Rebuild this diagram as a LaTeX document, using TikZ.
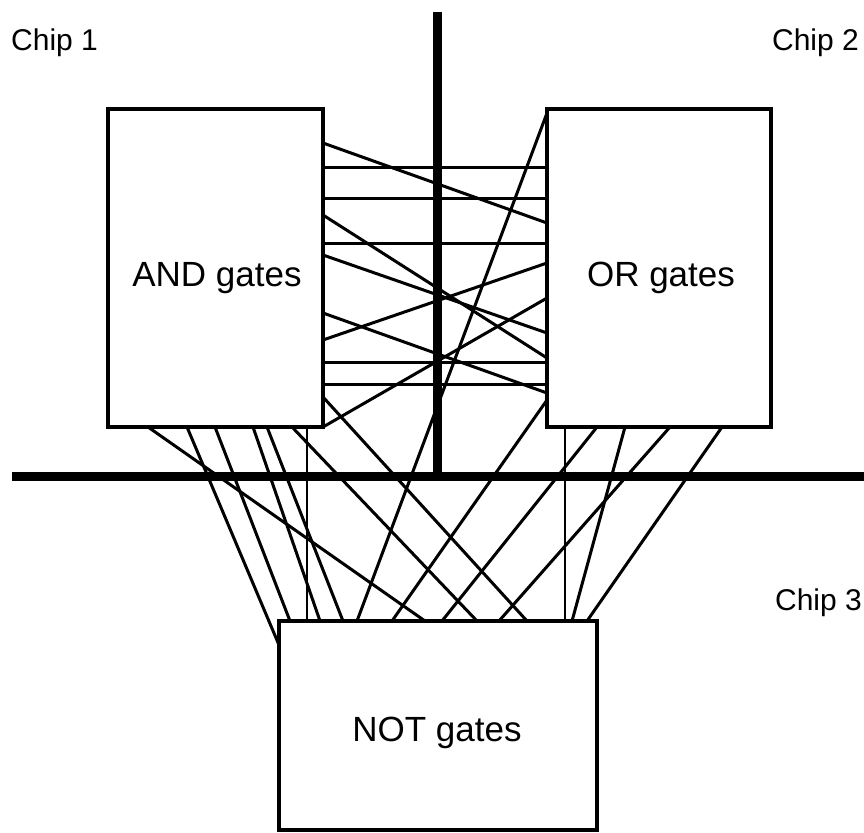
\documentclass[tikz,border=0pt]{standalone}
\usepackage{fontspec}
\setmainfont{Liberation Sans}
\begin{document}
\begin{tikzpicture}[x=1pt,y=-1pt,
  box/.style={draw, line width=3.1pt, inner sep=0pt, outer sep=0pt, anchor=north west},
  wire/.style={line width=3pt},
  vwire/.style={line width=2.4pt},
  bar/.style={line width=9pt},
  lbl/.style={font=\fontsize{35}{42}\selectfont, anchor=base, inner sep=0pt},
  chip/.style={font=\fontsize{30}{36}\selectfont, inner sep=0pt}]
\useasboundingbox (0,0) rectangle (864,832);
% boxes
\node[box, minimum width=215pt, minimum height=318pt] (and) at (108,109) {};
\node[box, minimum width=224pt, minimum height=318pt] (or) at (547,109) {};
\node[box, minimum width=318pt, minimum height=209pt] (not) at (279,621) {};
% chip boundaries
\coordinate (vtop) at (437,12);
\coordinate (vbot) at (437,476);
\coordinate (hleft) at (12,476);
\coordinate (hright) at (864,476);
\draw[bar] (vtop) -- (vbot);
\draw[bar] (hleft) -- (hright);
% AND -> OR
\foreach \a/\b in {143/223, 167/167, 198/198, 215/358, 243/243, 255/333,
                   313/393, 340/263, 362/362, 384/384, 427/298}
  \draw[wire] (and.east |- 0,\a) -- (or.west |- 0,\b);
% AND bottom -> NOT top
\foreach \a/\b in {148/425, 215/290, 253/320, 267/343, 292/477}
  \draw[wire] (\a,0 |- and.south) -- (\b,0 |- not.north);
\draw[vwire] (307,0 |- and.south) -- (307,0 |- not.north);
\draw[wire] (187,0 |- and.south) -- (not.west |- 0,645);
\draw[wire] (and.east |- 0,397) -- (527,0 |- not.north);
% OR side -> NOT top
\draw[wire] (or.west |- 0,113) -- (357,0 |- not.north);
\draw[wire] (or.west |- 0,400) -- (392,0 |- not.north);
% OR bottom -> NOT top
\foreach \a/\b in {597/442, 625/572, 670/499, 722/587}
  \draw[wire] (\a,0 |- or.south) -- (\b,0 |- not.north);
\draw[vwire] (565,0 |- or.south) -- (565,0 |- not.north);
% labels
\node[chip, anchor=base west] (c1) at (11,51) {Chip 1};
\node[chip, anchor=base east] (c2) at (859,51) {Chip 2};
\node[chip, anchor=base east] (c3) at (862,610) {Chip 3};
\node[lbl] (andl) at (217,286) {AND gates};
\node[lbl] (orl) at (661,286) {OR gates};
\node[lbl] (notl) at (437,741) {NOT gates};
\end{tikzpicture}
\end{document}
